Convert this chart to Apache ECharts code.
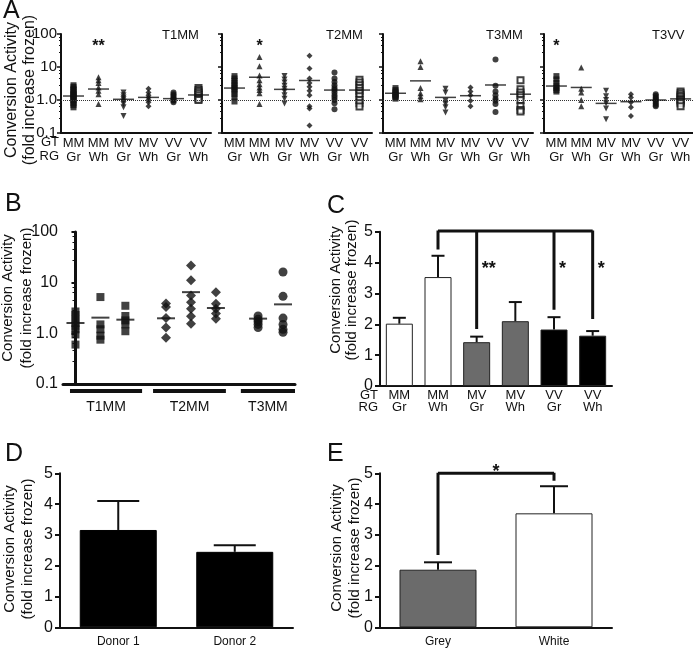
<!DOCTYPE html>
<html><head><meta charset="utf-8">
<script src="https://cdn.jsdelivr.net/npm/echarts/dist/echarts.min.js"></script>
<style>html,body{margin:0;padding:0;background:#fff}#c{width:693px;height:649px}</style>
</head><body><div id="c"></div>
<script>
// ---------- Panel A data ----------
const aCategories = ['MM\nGr','MM\nWh','MV\nGr','MV\nWh','VV\nGr','VV\nWh'];
const aPanelTitles = ['T1MM','T2MM','T3MM','T3VV'];
const aSymbols = ['rect','triangle','triangle','diamond','circle','emptyRect'];
const aSymbolRotate = [0,0,180,0,0,0];

const aT1MM = [
  [2.8,2.5,2.2,2.0,1.8,1.6,1.5,1.4,1.3,1.2,1.1,1.0,0.9,0.8,0.7,0.6],
  [4.9,4.0,3.3,2.4,1.9,1.5,0.76],
  [1.7,1.4,1.2,1.05,0.9,0.75,0.6,0.33],
  [2.2,1.7,1.4,1.2,1.0,0.85,0.65],
  [1.7,1.5,1.35,1.2,1.1,1.0,0.95,0.85],
  [2.3,2.0,1.8,1.6,1.4,1.2,1.1,1.0]
];
const aT1MMMeans = [1.32,2.15,1.05,1.2,1.1,1.42];

const aT2MM = [
  [5.3,4.5,3.8,3.2,2.8,2.4,2.1,1.8,1.5,1.2,0.9],
  [20,10.5,5.5,4.0,3.0,2.4,2.0,1.6,0.75],
  [5.3,4.2,3.4,2.7,2.2,1.8,1.4,1.1,0.78],
  [22,9,4.5,3.3,2.5,1.9,1.4,0.65,0.55,0.17],
  [6.8,4.5,3.5,2.8,2.3,2.0,1.7,1.4,1.2,1.0,0.8,0.52],
  [4.1,3.4,2.8,2.3,1.9,1.6,1.3,1.0,0.8,0.63]
];
const aT2MMMeans = [2.3,4.9,2.1,3.9,2.0,2.0];

const aT3MM = [
  [2.3,2.0,1.8,1.6,1.5,1.4,1.3,1.2,1.1],
  [15,10,2.3,1.6,1.3,1.05],
  [2.2,1.7,0.95,0.75,0.6,0.42],
  [2.4,1.8,1.4,0.95,0.65],
  [17,2.7,1.8,1.4,1.1,0.95,0.75,0.43],
  [4.0,2.1,1.7,1.4,1.0,0.65,0.5,0.45]
];
const aT3MMMeans = [1.6,3.8,1.2,1.35,2.85,1.5];

const aT3VV = [
  [5.3,4.2,3.3,2.7,2.3,2.0,1.8],
  [9.6,2.2,1.7,1.0,0.65],
  [1.9,1.3,1.0,0.8,0.55,0.26],
  [1.5,1.2,0.85,0.6,0.33],
  [1.5,1.35,1.2,1.1,1.0,0.9,0.8,0.7,0.65],
  [1.8,1.6,1.4,1.25,1.1,1.0,0.9,0.8,0.65]
];
const aT3VVMeans = [2.65,2.4,0.79,0.89,1.0,1.08];

const aStars = [[1,1,43,'**'],[1,1,43,'*'],null,[0,0,43,'*']];

// ---------- Panel B data ----------
const bPositions = [0,1,2,3.63,4.63,5.63,7.32,8.32];
const bSymbols = ['rect','rect','rect','diamond','diamond','diamond','circle','circle'];
const bValues = [
  [2.7,2.3,1.9,1.6,1.4,1.2,0.95,0.6],
  [5.2,1.5,1.2,0.9,0.75],
  [3.5,2.2,1.8,1.5,1.1],
  [3.9,3.3,2.0,1.3,0.82],
  [21.9,11.1,5.6,4.1,3.07,2.17,1.55],
  [6.5,3.85,3.07,2.45,1.95],
  [2.2,1.9,1.7,1.5,1.3],
  [16.2,5.37,2.0,1.5,1.2,1.05]
];
const bMeans = [1.6,2.04,1.86,1.98,6.5,3.16,1.95,3.73];
const bGroupNames = ['T1MM','T2MM','T3MM'];
const bGroupStart = [-0.22,3.11,6.63];
const bGroupEnd = [2.67,6.03,8.8];

// ---------- Panel C data ----------
const cCategories = ['MM\nGr','MM\nWh','MV\nGr','MV\nWh','VV\nGr','VV\nWh'];
const cMeans = [2.02,3.53,1.42,2.1,1.83,1.63];
const cErrTop = [2.21,4.22,1.6,2.72,2.23,1.78];
const cColors = ['#ffffff','#ffffff','#6b6b6b','#6b6b6b','#000000','#000000'];
const cBracketTop = 5.02;
const cBracketDrops = [[1,4.42],[2,1.85],[4,2.47],[5,2.17]];
const cStars = [[2,2,3.8,'**'],[4,4,3.8,'*'],[5,5,3.8,'*']];

// ---------- Panel D data ----------
const dCategories = ['Donor 1','Donor 2'];
const dMeans = [3.16,2.45];
const dErrTop = [4.1,2.66];

// ---------- Panel E data ----------
const eCategories = ['Grey','White'];
const eMeans = [1.87,3.7];
const eErrTop = [2.11,4.58];
const eColors = ['#6b6b6b','#ffffff'];
const eBracketTop = 5.0;
const eBracketDrops = [[0,2.35],[1,4.76]];
const eStars = [[0,1,5.04,'*']];

// ---------- build ----------
const FONT = '"Liberation Sans", Arial, sans-serif';
const INK = '#111';
const grid = [], xAxis = [], yAxis = [], series = [], graphic = [];
function addGrid(g){ grid.push(Object.assign({containLabel:false, outerBoundsMode:'none'}, g)); return grid.length-1; }
const logFmt = v => v >= 10 ? String(Math.round(v)) : (Math.round(v*10)/10).toFixed(1);

// stars: [xFrom, xTo, y, text]; drawn centred between xFrom and xTo (or to the right if align 'left')
function starSeries(gi, stars, fontSize, align, dx){
  return {type:'custom', xAxisIndex:gi, yAxisIndex:gi, silent:true, clip:false, z:10,
    data: stars.map((s,i)=>[s[0], s[1], s[2], i]),
    renderItem:(p, api)=>{
      const a = api.coord([api.value(0), api.value(2)]);
      const b = api.coord([api.value(1), api.value(2)]);
      return {type:'text', style:{text:stars[api.value(3)][3], x:(a[0]+b[0])/2 + dx, y:a[1],
        align:align, verticalAlign:'middle', textAlign:align, textVerticalAlign:'middle',
        font:'bold '+fontSize+'px '+FONT, fill:INK}};
    }};
}
function errSeries(gi, means, tops, cap){
  return {type:'custom', xAxisIndex:gi, yAxisIndex:gi, silent:true, clip:false, z:6,
    data: means.map((m,i)=>[i, m, tops[i]]),
    renderItem:(p, api)=>{
      const a = api.coord([api.value(0), api.value(1)]);
      const b = api.coord([api.value(0), api.value(2)]);
      return {type:'group', children:[
        {type:'line', shape:{x1:a[0], y1:a[1], x2:b[0], y2:b[1]}, style:{stroke:INK, lineWidth:2}},
        {type:'line', shape:{x1:b[0]-cap/2, y1:b[1], x2:b[0]+cap/2, y2:b[1]}, style:{stroke:INK, lineWidth:2}}
      ]};
    }};
}
function bracketSeries(gi, top, drops){
  const out = [];
  const xs = drops.map(d=>d[0]);
  out.push({type:'line', xAxisIndex:gi, yAxisIndex:gi, silent:true, clip:false, z:7, symbol:'none',
    lineStyle:{color:INK, width:3}, data:[[Math.min(...xs), top],[Math.max(...xs), top]]});
  drops.forEach(d => out.push({type:'line', xAxisIndex:gi, yAxisIndex:gi, silent:true, clip:false, z:7, symbol:'none',
    lineStyle:{color:INK, width:3}, data:[[d[0], top+0.02],[d[0], d[1]]]}));
  return out;
}
function valueY(gi){
  return {gridIndex:gi, type:'value', min:0, max:5, interval:1,
    axisLine:{show:true, lineStyle:{color:INK, width:2}},
    axisTick:{show:true, length:5, lineStyle:{color:INK, width:2}},
    splitLine:{show:false},
    axisLabel:{color:INK, fontSize:16, fontFamily:FONT, margin:7}};
}
function txt(t, x, y, size, align, rot){
  graphic.push({type:'text', x:x, y:y, rotation:rot||0, silent:true,
    style:{text:t, fill:INK, font:size+'px '+FONT, align:align||'left', verticalAlign:'middle',
      textAlign:align||'left', textVerticalAlign:'middle'}});
}
function yName(x1, x2, y, size){
  txt('Conversion Activity', x1, y, size, 'center', Math.PI/2);
  txt('(fold increase frozen)', x2, y, size, 'center', Math.PI/2);
}

// Panel A
const aData = [aT1MM, aT2MM, aT3MM, aT3VV];
const aMeans = [aT1MMMeans, aT2MMMeans, aT3MMMeans, aT3VVMeans];
const aLeft = [61,222,383,544], aWidth = [150,150,150,149];
const aTitleX = [162,326,486,652];
aData.forEach((cols, i) => {
  const gi = addGrid({left:aLeft[i], top:34, width:aWidth[i], height:99});
  xAxis.push({gridIndex:gi, type:'category', data:aCategories,
    axisLine:{lineStyle:{color:INK, width:2}}, axisTick:{show:false},
    axisLabel:{interval:0, color:INK, fontSize:13, lineHeight:14, margin:3, fontFamily:FONT}});
  yAxis.push({gridIndex:gi, type:'log', logBase:10, min:0.1, max:100,
    axisLine:{show:true, lineStyle:{color:INK, width:2}},
    axisTick:{show:true, length:4, lineStyle:{color:INK, width:1.5}},
    minorTick:{show:true, length:2, lineStyle:{color:INK, width:1}},
    splitLine:{show:false}, minorSplitLine:{show:false},
    axisLabel:{show:i===0, formatter:logFmt, color:INK, fontSize:15, fontFamily:FONT, margin:4}});
  cols.forEach((vals, j) => series.push({type:'scatter', xAxisIndex:gi, yAxisIndex:gi, silent:true,
    data: vals.map(v=>[j, v]), symbol:aSymbols[j], symbolRotate:aSymbolRotate[j], symbolSize:6,
    itemStyle:{color:INK, borderColor:INK, borderWidth:aSymbols[j]==='emptyRect'?1:0}}));
  series.push({type:'scatter', xAxisIndex:gi, yAxisIndex:gi, silent:true, z:5,
    data: aMeans[i].map((m,j)=>[j, m]), symbol:'rect', symbolSize:[21,1.5], itemStyle:{color:INK},
    markLine:{silent:true, symbol:['none','none'], label:{show:false},
      lineStyle:{type:'dotted', color:'#333', width:1}, data:[{yAxis:1}]}});
  if (aStars[i]) series.push(starSeries(gi, [aStars[i]], 16, 'center', 0));
  txt(aPanelTitles[i], aTitleX[i], 35, 13, 'left');
});
txt('GT', 59, 142.5, 13, 'right');
txt('RG', 59, 156.5, 13, 'right');

// Panel B
const gb = addGrid({left:63, top:232, width:232, height:152});
xAxis.push({gridIndex:gb, type:'value', min:-0.5, max:8.8,
  axisLine:{show:true, lineStyle:{color:INK, width:3}}, axisTick:{show:false}, axisLabel:{show:false}, splitLine:{show:false}});
yAxis.push({gridIndex:gb, type:'log', logBase:10, min:0.1, max:100,
  axisLine:{show:true, lineStyle:{color:INK, width:3}},
  axisTick:{show:true, length:4, lineStyle:{color:INK, width:2}},
  minorTick:{show:true, length:3, lineStyle:{color:INK, width:1}},
  splitLine:{show:false}, minorSplitLine:{show:false},
  axisLabel:{formatter:logFmt, color:INK, fontSize:16, fontFamily:FONT, margin:5}});
bValues.forEach((vals, k) => series.push({type:'scatter', xAxisIndex:gb, yAxisIndex:gb, silent:true,
  data: vals.map(v=>[bPositions[k], v]), symbol:bSymbols[k],
  symbolSize: bSymbols[k]==='rect' ? 8 : (bSymbols[k]==='diamond' ? 10 : 9), itemStyle:{color:INK}}));
series.push({type:'scatter', xAxisIndex:gb, yAxisIndex:gb, silent:true, z:5,
  data: bMeans.map((m,k)=>[bPositions[k], m]), symbol:'rect', symbolSize:[18,2], itemStyle:{color:INK}});
series.push({type:'custom', xAxisIndex:gb, yAxisIndex:gb, silent:true, clip:false,
  data: bGroupNames.map((n,i)=>[bGroupStart[i], bGroupEnd[i], i]),
  renderItem:(p, api)=>{
    const a = api.coord([api.value(0), 0.1]), b = api.coord([api.value(1), 0.1]);
    const name = bGroupNames[api.value(2)];
    return {type:'group', children:[
      {type:'rect', shape:{x:a[0], y:a[1]+5, width:b[0]-a[0], height:4}, style:{fill:INK}},
      {type:'text', style:{text:name, x:(a[0]+b[0])/2, y:a[1]+23, align:'center', verticalAlign:'middle',
        textAlign:'center', textVerticalAlign:'middle', font:'14px '+FONT, fill:INK}}
    ]};
  }});

// Panel C
const gc = addGrid({left:380, top:231.7, width:232, height:154.3});
xAxis.push({gridIndex:gc, type:'category', data:cCategories,
  axisLine:{lineStyle:{color:INK, width:2}}, axisTick:{show:false},
  axisLabel:{interval:0, color:INK, fontSize:13, lineHeight:12, margin:3, fontFamily:FONT}});
yAxis.push(valueY(gc));
series.push({type:'bar', xAxisIndex:gc, yAxisIndex:gc, silent:true, barWidth:27,
  data: cMeans.map((m,i)=>({value:m, itemStyle:{color:cColors[i], borderColor:'#222', borderWidth:1}}))});
series.push(errSeries(gc, cMeans, cErrTop, 13));
bracketSeries(gc, cBracketTop, cBracketDrops).forEach(s=>series.push(s));
series.push(starSeries(gc, cStars, 18, 'left', 5));
txt('GT', 378, 395, 13, 'right');
txt('RG', 378, 407, 13, 'right');

// Panel D
const gd = addGrid({left:60, top:473.3, width:233, height:154});
xAxis.push({gridIndex:gd, type:'category', data:dCategories,
  axisLine:{lineStyle:{color:INK, width:2}}, axisTick:{show:false},
  axisLabel:{interval:0, color:INK, fontSize:12, margin:8, fontFamily:FONT}});
yAxis.push(valueY(gd));
series.push({type:'bar', xAxisIndex:gd, yAxisIndex:gd, silent:true, barWidth:77,
  data: dMeans.map(m=>({value:m, itemStyle:{color:'#000', borderColor:'#000', borderWidth:1}}))});
series.push(errSeries(gd, dMeans, dErrTop, 42));

// Panel E
const ge = addGrid({left:380, top:473.3, width:232, height:154});
xAxis.push({gridIndex:ge, type:'category', data:eCategories,
  axisLine:{lineStyle:{color:INK, width:2}}, axisTick:{show:false},
  axisLabel:{interval:0, color:INK, fontSize:12, margin:8, fontFamily:FONT}});
yAxis.push(valueY(ge));
series.push({type:'bar', xAxisIndex:ge, yAxisIndex:ge, silent:true, barWidth:77,
  data: eMeans.map((m,i)=>({value:m, itemStyle:{color:eColors[i], borderColor:'#222', borderWidth:1}}))});
series.push(errSeries(ge, eMeans, eErrTop, 28));
bracketSeries(ge, eBracketTop, eBracketDrops).forEach(s=>series.push(s));
series.push(starSeries(ge, eStars, 18, 'center', 0));

// axis names and panel letters
yName(12, 30, 90, 16);
yName(8, 27, 298, 15);
yName(336, 352, 290, 15);
yName(10, 28, 549, 15);
yName(337, 355, 548, 15);
txt('A', 3, 11, 25, 'left');
txt('B', 5, 204, 25, 'left');
txt('C', 327, 206, 25, 'left');
txt('D', 5, 454, 25, 'left');
txt('E', 327, 454, 25, 'left');

const chart = echarts.init(document.getElementById('c'), null, {renderer:'canvas'});
chart.setOption({animation:false, backgroundColor:'#fff', textStyle:{fontFamily:FONT},
  grid, xAxis, yAxis, series, graphic});
</script></body></html>
